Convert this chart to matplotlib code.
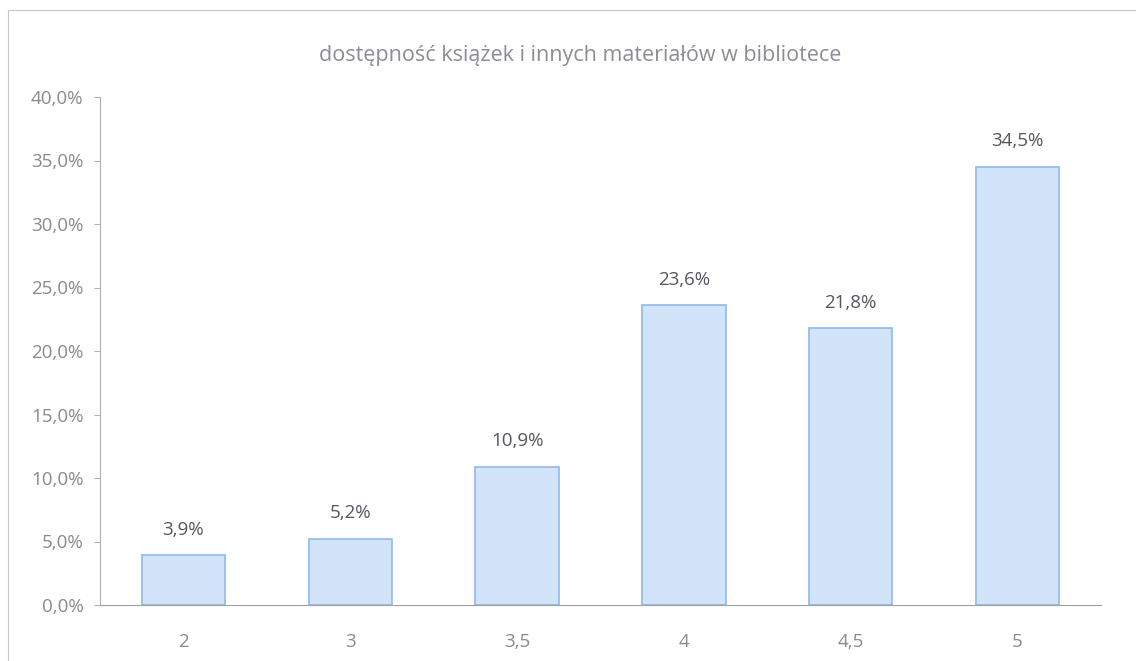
import matplotlib
matplotlib.use("Agg")
import matplotlib.pyplot as plt
from matplotlib.patches import Rectangle

categories = ["2", "3", "3,5", "4", "4,5", "5"]
values = [3.9, 5.2, 10.9, 23.6, 21.8, 34.5]
yticks = [0, 5, 10, 15, 20, 25, 30, 35, 40]
title = "dostępność książek i innych materiałów w bibliotece"

plt.rcParams['font.family'] = ['Open Sans', 'DejaVu Sans']

fig = plt.figure(figsize=(11.36, 6.61), dpi=100)
fig.patch.set_facecolor("white")
# outer chart frame
fig.patches.append(Rectangle((8/1136, -0.05), 1.2, 1 - 10/661 + 0.05, transform=fig.transFigure,
                             fill=False, edgecolor="#c8c8c8", linewidth=0.8))

ax = fig.add_axes([100/1136, 1 - 605/661, 1001/1136, (605 - 97)/661])
x = list(range(len(categories)))
bars = ax.bar(x, values, width=0.5, color="#d2e4f9", edgecolor="#8fb8ea", linewidth=1.2)
for xi, v in zip(x, values):
    ax.text(xi, v + 1.3, f"{v:.1f}%".replace(".", ","), ha="center", va="bottom",
            fontsize=13.5, color="#555560")

ax.set_xlim(-0.5, len(categories) - 0.5)
ax.set_ylim(0, 40)
ax.set_yticks(yticks)
ax.set_yticklabels([f"{t:.1f}%".replace(".", ",") for t in yticks], color="#8a8a8a", fontsize=13.5)
ax.set_xticks(x)
ax.set_xticklabels(categories, color="#8a8a8a", fontsize=13.5)
ax.tick_params(axis="y", length=4, color="#b0b0b0", pad=8)
ax.tick_params(axis="x", length=0, pad=20)
for s in ["top", "right"]:
    ax.spines[s].set_visible(False)
ax.spines["left"].set_color("#b0b0b0")
ax.spines["bottom"].set_color("#a0a0a0")
ax.spines["bottom"].set_linestyle((0, (4, 1)))
fig.text(580/1136, 1 - 55/661, title, ha="center", va="center", fontsize=15.5, color="#8c8c96")

fig.savefig("out.png", dpi=100)
